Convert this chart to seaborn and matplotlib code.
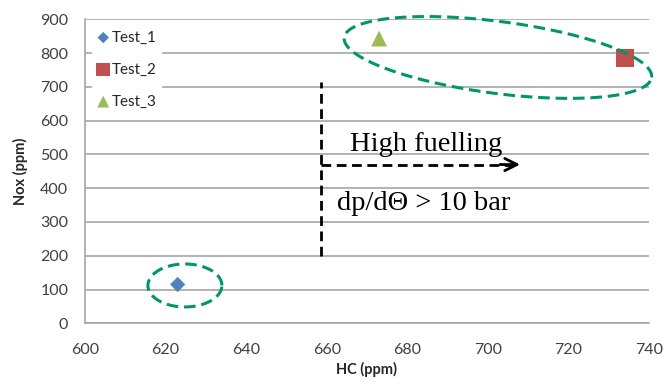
import numpy as np
import pandas as pd
import matplotlib
matplotlib.use("Agg")
import matplotlib.pyplot as plt
import seaborn as sns

# ---- data ----
tests = ["Test_1", "Test_2", "Test_3"]
hc_ppm = [623, 734, 673]
nox_ppm = [115, 786, 843]
x_ticks = [600, 620, 640, 660, 680, 700, 720, 740]
y_ticks = [0, 100, 200, 300, 400, 500, 600, 700, 800, 900]

colors = {"Test_1": "#4F81BD", "Test_2": "#C0504D", "Test_3": "#9BBB59"}
markers = {"Test_1": "D", "Test_2": "s", "Test_3": "^"}
sizes = {"Test_1": 60, "Test_2": 170, "Test_3": 130}

df = pd.DataFrame({"HC": hc_ppm, "Nox": nox_ppm, "Test": tests})

sns.set_style("white")
plt.rcParams["font.family"] = ["Lato", "DejaVu Sans"]

fig = plt.figure(figsize=(6.66, 3.88), dpi=100)
ax = fig.add_axes([85 / 666, 1 - 323.3 / 388, (649 - 85) / 666, (323.3 - 19.3) / 388])

for t in tests:
    sub = df[df["Test"] == t]
    sns.scatterplot(data=sub, x="HC", y="Nox", marker=markers[t], color=colors[t],
                    s=sizes[t], edgecolor="none", label=t, ax=ax, zorder=5)

ax.set_xlim(600, 740)
ax.set_ylim(0, 900)
ax.set_xticks(x_ticks)
ax.set_yticks(y_ticks)
ax.yaxis.grid(True, color="#A6A6A6", lw=1.2)
ax.xaxis.grid(False)
for s in ["top", "right"]:
    ax.spines[s].set_visible(False)
for s in ["left", "bottom"]:
    ax.spines[s].set_color("#A6A6A6")
    ax.spines[s].set_linewidth(1.2)
ax.tick_params(axis="both", which="both", direction="out", length=6, width=1.2,
               color="#A6A6A6", labelsize=11.5, labelcolor="#404040")
ax.tick_params(axis="x", pad=8)
ax.tick_params(axis="y", pad=6)
ax.set_xlabel("HC (ppm)", fontsize=10.5, fontweight="bold", color="#262626", labelpad=4)
ax.set_ylabel("Nox (ppm)", fontsize=10.5, fontweight="bold", color="#262626", labelpad=9)

leg = ax.legend(loc="upper left", bbox_to_anchor=(0.012, 0.978), frameon=True,
                fontsize=11, handletextpad=0.1, labelspacing=1.18,
                borderaxespad=0.0, borderpad=0.3, handlelength=0.9, markerscale=0.75)
leg.get_frame().set_facecolor("white")
leg.get_frame().set_edgecolor("white")
leg.get_frame().set_alpha(1)
for txt in leg.get_texts():
    txt.set_color("#262626")

# ---- annotations ----
sx = 564 / 140.0   # px per HC unit
sy = 304 / 900.0   # px per ppm


def ellipse(cx, cy, a, b, ang_deg):
    t = np.linspace(0, 2 * np.pi, 400)
    th = np.deg2rad(ang_deg)
    xp = a * np.cos(t) * np.cos(th) - b * np.sin(t) * np.sin(th)
    yp = a * np.cos(t) * np.sin(th) + b * np.sin(t) * np.cos(th)
    return cx + xp / sx, cy + yp / sy


green = "#00956A"
ex, ey = ellipse(624.8, 112, 37, 21.5, 0)
ax.plot(ex, ey, color=green, lw=2.2, ls=(0, (3.8, 1.9)), zorder=6, clip_on=False)
ex, ey = ellipse(702.5, 787, 155, 36, -7.4)
ax.plot(ex, ey, color=green, lw=2.2, ls=(0, (3.8, 1.9)), zorder=6, clip_on=False)

ax.plot([658.6, 658.6], [200, 715], color="black", lw=2, ls=(0, (3.5, 2)), zorder=6)
ax.plot([658.6, 706.5], [470, 470], color="black", lw=2, ls=(0, (3.5, 2)), zorder=6)
ax.annotate("", xy=(708, 470), xytext=(703, 470),
            arrowprops=dict(arrowstyle="->", lw=2, color="black", mutation_scale=22,
                            shrinkA=0, shrinkB=0), zorder=7)

ax.text(684.7, 530, "High fuelling", fontsize=20.5, family=["Liberation Serif", "DejaVu Serif"],
        ha="center", va="center", color="black", zorder=7)
ax.text(684, 356, "dp/d\u0398 > 10 bar", fontsize=20.5, family=["Liberation Serif", "DejaVu Serif"],
        ha="center", va="center", color="black", zorder=7)

fig.savefig("out.png", dpi=100)
